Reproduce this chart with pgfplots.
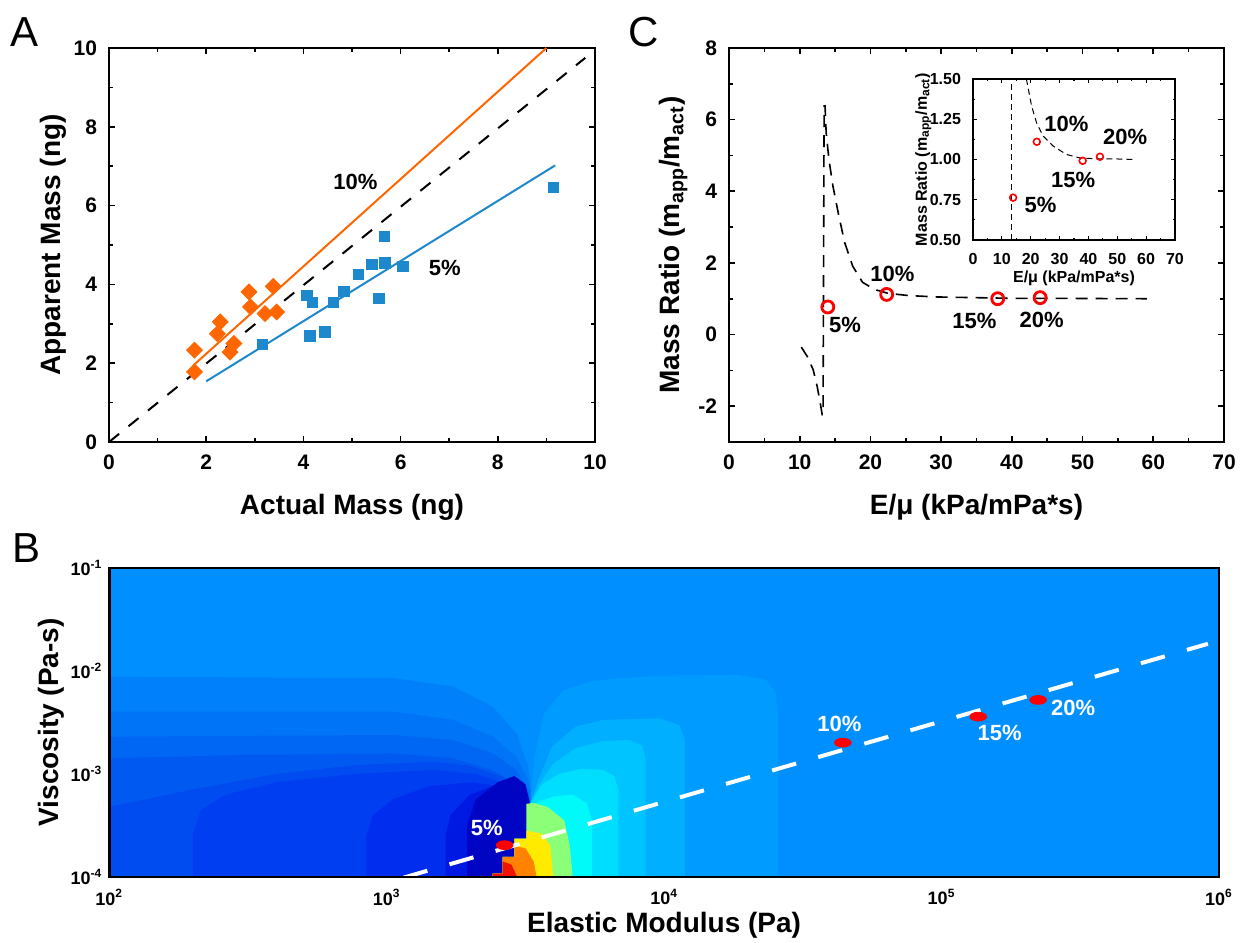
\documentclass[border=0pt]{standalone}
\usepackage{pgfplots}
\pgfplotsset{compat=1.18}
\usepackage{fontspec}
\setmainfont{Liberation Sans}
\newcommand{\fs}[1]{\fontsize{#1}{#1}\selectfont}

\definecolor{aorange}{RGB}{255,102,0}
\definecolor{ablue}{RGB}{30,136,204}
% contour colours (jet-like)
\definecolor{bg}{RGB}{0,143,255}
\definecolor{la}{RGB}{0,129,251}
\definecolor{lb}{RGB}{0,116,247}
\definecolor{lc}{RGB}{0,103,244}
\definecolor{ld}{RGB}{0,90,241}
\definecolor{le}{RGB}{0,76,240}
\definecolor{lf}{RGB}{0,62,241}
\definecolor{lg}{RGB}{0,45,238}
\definecolor{lh}{RGB}{0,25,226}
\definecolor{li}{RGB}{0,5,196}
\definecolor{ra}{RGB}{0,155,255}
\definecolor{rb}{RGB}{0,175,255}
\definecolor{rc}{RGB}{0,196,255}
\definecolor{rd}{RGB}{0,222,255}
\definecolor{re}{RGB}{0,250,250}
\definecolor{hg}{RGB}{140,255,120}
\definecolor{hy}{RGB}{255,235,0}
\definecolor{ho}{RGB}{255,130,0}
\definecolor{hr}{RGB}{240,20,0}

\pgfplotsset{
  panel/.style={
    scale only axis, anchor=south west,
    axis line style={line width=0.8pt},
    every tick/.style={black, line width=0.8pt},
    tick align=inside, tick pos=both,
    xticklabel pos=lower, yticklabel pos=left,
    /pgf/number format/assume math mode=true,
    tick label style={font=\bfseries\fs{10.5}},
    major tick length=3pt, minor tick length=1.8pt,
    xticklabel style={yshift=-3pt}, yticklabel style={xshift=-2.5pt},
  },
}

\begin{document}
\begin{tikzpicture}
\useasboundingbox (0,0) rectangle (620pt,471pt);

% ---------------- A ----------------
\begin{axis}[panel, at={(54.5pt,250pt)}, width=243pt, height=197pt,
  xmin=0, xmax=10, ymin=0, ymax=10,
  xtick={0,2,...,10}, ytick={0,2,...,10}, minor tick num=1,
  xlabel={Actual Mass (ng)}, ylabel={Apparent Mass (ng)},
  every axis x label/.style={at={(axis description cs:0.5,-0.185)}, anchor=base, font=\bfseries\fs{14}},
  every axis y label/.style={at={(axis description cs:-0.099,0.5)}, anchor=base, rotate=90, font=\bfseries\fs{14}},
]
\addplot[black, line width=1pt, dash pattern=on 6.5pt off 6pt] coordinates {(0,0) (9.8,9.75)};
\addplot[aorange, line width=1pt] coordinates {(1.74,1.95) (9.0,10.0)};
\addplot[ablue, line width=1pt] coordinates {(2.0,1.54) (9.18,7.02)};
\addplot[only marks, mark=square*, mark size=2.8pt, color=aorange, mark options={rotate=45}] coordinates {
  (1.76,1.78) (1.76,2.33) (2.23,2.75) (2.29,3.05) (2.49,2.28) (2.57,2.50)
  (2.88,3.81) (2.91,3.43) (3.21,3.26) (3.38,3.95) (3.45,3.30)
};
\addplot[only marks, mark=square*, mark size=2.6pt, color=ablue] coordinates {
  (3.16,2.47) (4.07,3.72) (4.18,3.54) (4.13,2.69) (4.44,2.79) (4.62,3.55) (4.83,3.82)
  (5.13,4.25) (5.41,4.50) (5.55,3.64) (5.67,5.22) (5.68,4.55) (6.05,4.46) (9.15,6.46)
};
\node[font=\bfseries\fs{11}] at (axis cs:5.07,6.59) {10\%};
\node[font=\bfseries\fs{11}] at (axis cs:6.91,4.41) {5\%};
\end{axis}

% ---------------- C ----------------
\begin{axis}[panel, at={(364.5pt,250pt)}, width=247.5pt, height=197pt,
  xmin=0, xmax=70, ymin=-3, ymax=8,
  xtick={0,10,...,70}, ytick={-2,0,...,8}, minor tick num=1,
  xlabel={E/μ (kPa/mPa*s)}, ylabel={Mass Ratio (m\textsubscript{app}/m\textsubscript{act})},
  every axis x label/.style={at={(axis description cs:0.5,-0.185)}, anchor=base, font=\bfseries\fs{14}},
  every axis y label/.style={at={(axis description cs:-0.101,0.5)}, anchor=base, rotate=90, font=\bfseries\fs{14}},
]
\addplot[black, line width=0.8pt, dash pattern=on 6pt off 4pt] coordinates {
  (10.22,-0.35) (11.06,-0.61) (11.9,-0.98) (12.46,-1.44) (12.9,-1.91) (13.18,-2.24)
  (13.3,-2.24) (13.45,6.38) (13.58,6.38) (13.74,5.64) (14.13,4.89) (14.69,4.15)
  (15.53,3.31) (16.37,2.56) (17.49,1.91) (18.88,1.46) (20.56,1.26) (22.5,1.15)
  (25.3,1.09) (29.2,1.05) (34.8,1.03) (40.4,1.01) (46,1.01) (59.1,1.0)
};
\addplot[only marks, mark=o, mark size=3pt, red, line width=1.4pt] coordinates {
  (13.97,0.77) (22.3,1.12) (38.0,1.00) (44.0,1.03)
};
\node[font=\bfseries\fs{11}] at (axis cs:16.4,0.28) {5\%};
\node[font=\bfseries\fs{11}] at (axis cs:23.1,1.68) {10\%};
\node[font=\bfseries\fs{11}] at (axis cs:34.7,0.37) {15\%};
\node[font=\bfseries\fs{11}] at (axis cs:44.2,0.42) {20\%};
\end{axis}

% ---------------- C inset ----------------
\begin{axis}[panel, at={(486.5pt,351pt)}, width=101pt, height=80.5pt,
  axis background/.style={fill=white},
  axis line style={line width=0.6pt}, every tick/.style={black, line width=0.6pt},
  major tick length=2pt, minor tick length=1.2pt,
  tick label style={font=\bfseries\fs{8}},
  xticklabel style={yshift=0pt}, yticklabel style={xshift=0pt},
  xmin=0, xmax=70, ymin=0.5, ymax=1.5,
  xtick={0,10,...,70}, ytick={0.5,0.75,...,1.5}, minor tick num=1,
  yticklabel style={/pgf/number format/.cd, fixed, fixed zerofill, precision=2},
  xlabel={E/μ (kPa/mPa*s)}, ylabel={Mass Ratio (m\textsubscript{app}/m\textsubscript{act})},
  every axis x label/.style={at={(axis description cs:0.5,-0.265)}, anchor=base, font=\bfseries\fs{8}},
  every axis y label/.style={at={(axis description cs:-0.228,0.5)}, anchor=base, rotate=90, font=\bfseries\fs{8}},
]
\addplot[black, line width=0.5pt, dash pattern=on 3pt off 2pt] coordinates {(13.5,0.5) (13.5,1.5)};
\addplot[black, line width=0.5pt, dash pattern=on 3pt off 2pt] coordinates {
  (18.5,1.5) (20.3,1.333) (22.0,1.229) (24.3,1.146) (27.8,1.083) (32.4,1.031)
  (37.0,1.01) (42.8,1.004) (48.6,1.004) (56.1,1.0)
};
\addplot[only marks, mark=o, mark size=1.7pt, red, line width=0.8pt] coordinates {
  (13.9,0.763) (22.1,1.11) (38.0,0.992) (44.0,1.017)
};
\node[font=\bfseries\fs{11}] at (axis cs:32.4,1.22) {10\%};
\node[font=\bfseries\fs{11}] at (axis cs:52.7,1.14) {20\%};
\node[font=\bfseries\fs{11}] at (axis cs:34.7,0.875) {15\%};
\node[font=\bfseries\fs{11}] at (axis cs:23.4,0.72) {5\%};
\end{axis}

% ---------------- B ----------------
\begin{axis}[scale only axis, anchor=south west, at={(54.65pt,32.5pt)}, width=554.85pt, height=154.5pt,
  axis on top, axis line style={line width=1.3pt},
  xmin=2, xmax=6, ymin=-4, ymax=-1, major tick length=0pt,
  xtick={2,...,6}, ytick={-4,...,-1},
  xticklabels={10\textsuperscript{2},10\textsuperscript{3},10\textsuperscript{4},10\textsuperscript{5},10\textsuperscript{6}},
  yticklabels={10\textsuperscript{-4},10\textsuperscript{-3},10\textsuperscript{-2},10\textsuperscript{-1}},
  tick label style={font=\bfseries\fs{9}}, xticklabel style={yshift=-2.5pt},
  xlabel={Elastic Modulus (Pa)}, ylabel={Viscosity (Pa-s)},
  every axis x label/.style={at={(axis description cs:0.5,-0.181)}, anchor=base, font=\bfseries\fs{14}},
  every axis y label/.style={at={(axis description cs:-0.046,0.5)}, anchor=base, rotate=90, font=\bfseries\fs{14}},
]
\addplot[fill=bg, draw=none] coordinates {(2,-4) (6,-4) (6,-1) (2,-1)} -- cycle;
% left contour bands
\addplot[fill=la, draw=none] coordinates {(2,-2.054) (3.027,-2.07) (3.24,-2.151) (3.382,-2.346) (3.468,-2.605) (3.51,-2.929) (3.524,-3.254) (3.524,-4) (2,-4)} -- cycle;
\addplot[fill=lb, draw=none] coordinates {(2,-2.394) (3.027,-2.394) (3.24,-2.475) (3.382,-2.637) (3.468,-2.832) (3.51,-3.059) (3.522,-3.286) (3.522,-4) (2,-4)} -- cycle;
\addplot[fill=lc, draw=none] coordinates {(2,-2.637) (3.027,-2.621) (3.24,-2.67) (3.382,-2.8) (3.468,-2.962) (3.51,-3.156) (3.52,-3.3) (3.52,-4) (2,-4)} -- cycle;
\addplot[fill=ld, draw=none] coordinates {(2,-2.848) (2.458,-2.816) (3.027,-2.80) (3.24,-2.848) (3.382,-2.962) (3.482,-3.124) (3.517,-3.286) (3.517,-4) (2,-4)} -- cycle;
\addplot[fill=le, draw=none] coordinates {(2,-3.318) (2.3,-3.15) (2.6,-3.0) (2.885,-2.913) (3.169,-2.881) (3.3,-2.92) (3.42,-3.03) (3.50,-3.2) (3.517,-3.3) (3.517,-4) (2,-4)} -- cycle;
\addplot[fill=lf, draw=none] coordinates {(2.301,-4) (2.301,-3.6) (2.33,-3.35) (2.42,-3.2) (2.6,-3.08) (2.885,-3.0) (3.169,-2.96) (3.32,-3.0) (3.44,-3.1) (3.51,-3.25) (3.517,-3.3) (3.517,-4)} -- cycle;
\addplot[fill=lg, draw=none] coordinates {(2.927,-4) (2.927,-3.6) (2.95,-3.4) (3.02,-3.25) (3.15,-3.12) (3.3,-3.08) (3.42,-3.12) (3.50,-3.22) (3.517,-3.3) (3.517,-4)} -- cycle;
\addplot[fill=lh, draw=none] coordinates {(3.212,-4) (3.212,-3.6) (3.23,-3.4) (3.3,-3.2) (3.4,-3.1) (3.48,-3.12) (3.517,-3.29) (3.517,-4)} -- cycle;
\addplot[fill=li, draw=none] coordinates {(3.29,-4) (3.29,-3.5) (3.32,-3.25) (3.40,-3.08) (3.46,-3.02) (3.50,-3.1) (3.517,-3.29) (3.517,-4)} -- cycle;
% right contour bands
\addplot[fill=ra, draw=none] coordinates {(3.517,-3.29) (3.532,-2.832) (3.567,-2.411) (3.638,-2.184) (3.738,-2.102) (3.834,-2.07) (4.0,-2.045) (4.268,-2.038) (4.367,-2.086) (4.403,-2.216) (4.41,-2.411) (4.41,-4) (3.517,-4)} -- cycle;
\addplot[fill=rb, draw=none] coordinates {(3.517,-3.29) (3.546,-3.059) (3.596,-2.735) (3.681,-2.540) (3.78,-2.475) (3.983,-2.459) (4.054,-2.524) (4.076,-2.67) (4.076,-4) (3.517,-4)} -- cycle;
\addplot[fill=rc, draw=none] coordinates {(3.517,-3.29) (3.55,-3.1) (3.60,-2.9) (3.68,-2.75) (3.78,-2.68) (3.87,-2.67) (3.92,-2.72) (3.933,-2.85) (3.933,-4) (3.517,-4)} -- cycle;
\addplot[fill=rd, draw=none] coordinates {(3.517,-3.29) (3.56,-3.1) (3.62,-3.0) (3.70,-2.95) (3.78,-2.96) (3.82,-3.02) (3.835,-3.15) (3.835,-4) (3.517,-4)} -- cycle;
\addplot[fill=re, draw=none] coordinates {(3.517,-3.3) (3.6,-3.22) (3.67,-3.2) (3.72,-3.28) (3.74,-3.45) (3.74,-4) (3.517,-4)} -- cycle;
% hot region near the resonance
\addplot[fill=hg, draw=none] coordinates {(3.503,-3.29) (3.53,-3.28) (3.58,-3.32) (3.64,-3.45) (3.66,-3.7) (3.67,-4) (3.382,-4) (3.382,-3.967) (3.418,-3.967) (3.418,-3.805) (3.46,-3.805) (3.46,-3.627) (3.503,-3.627)} -- cycle;
\addplot[fill=hy, draw=none] coordinates {(3.503,-3.55) (3.56,-3.58) (3.59,-3.7) (3.60,-4) (3.382,-4) (3.382,-3.967) (3.418,-3.967) (3.418,-3.805) (3.46,-3.805) (3.46,-3.627) (3.503,-3.627)} -- cycle;
\addplot[fill=ho, draw=none] coordinates {(3.46,-3.70) (3.50,-3.72) (3.53,-3.85) (3.54,-4) (3.382,-4) (3.382,-3.967) (3.418,-3.967) (3.418,-3.805) (3.46,-3.805)} -- cycle;
\addplot[fill=hr, draw=none] coordinates {(3.418,-3.85) (3.45,-3.88) (3.47,-4) (3.382,-4) (3.382,-3.967) (3.418,-3.967)} -- cycle;
% trend line and points
\addplot[white, line width=2pt, dash pattern=on 12.5pt off 11.5pt] coordinates {(3.06,-4.007) (5.96,-1.736)};
\addplot[only marks, mark=*, red, mark size=2.2pt, mark options={xscale=1.9}] coordinates {
  (3.425,-3.691) (4.644,-2.696) (5.132,-2.443) (5.348,-2.281)
};
\node[white, font=\bfseries\fs{11}] at (axis cs:3.361,-3.526) {5\%};
\node[white, font=\bfseries\fs{11}] at (axis cs:4.632,-2.511) {10\%};
\node[white, font=\bfseries\fs{11}] at (axis cs:5.209,-2.605) {15\%};
\node[white, font=\bfseries\fs{11}] at (axis cs:5.474,-2.359) {20\%};
\end{axis}

% panel letters
\node[anchor=base west, inner sep=0pt, font=\fs{21}] at (5pt,447.5pt) {A};
\node[anchor=base west, inner sep=0pt, font=\fs{21}] at (314pt,447.5pt) {C};
\node[anchor=base west, inner sep=0pt, font=\fs{21}] at (6pt,189.5pt) {B};
\end{tikzpicture}
\end{document}
